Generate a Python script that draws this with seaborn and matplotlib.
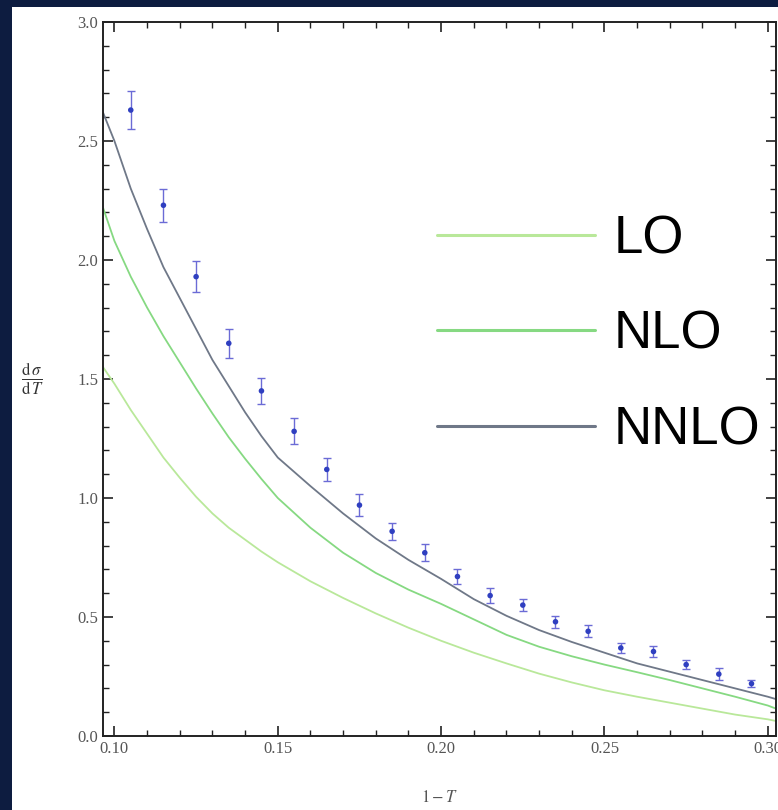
import matplotlib
matplotlib.use("Agg")
from matplotlib import pyplot as plt
from matplotlib.lines import Line2D
from matplotlib.patches import Rectangle
from matplotlib.ticker import MultipleLocator, FormatStrFormatter
import pandas as pd
import seaborn as sns

# theory curves, sampled along 1-T
curve_x = [0.0965, 0.10, 0.105, 0.11, 0.115, 0.12, 0.125, 0.13, 0.135, 0.14, 0.145,
           0.15, 0.16, 0.17, 0.18, 0.19, 0.20, 0.21, 0.22, 0.23, 0.24, 0.25, 0.26,
           0.27, 0.28, 0.29, 0.30, 0.3025]
lo = [1.55, 1.48, 1.37, 1.27, 1.17, 1.085, 1.005, 0.935, 0.875, 0.825, 0.775,
      0.73, 0.65, 0.58, 0.515, 0.455, 0.40, 0.35, 0.305, 0.262, 0.225, 0.192, 0.165,
      0.14, 0.115, 0.09, 0.07, 0.063]
nlo = [2.22, 2.08, 1.93, 1.80, 1.68, 1.57, 1.46, 1.355, 1.255, 1.165, 1.08,
       1.00, 0.875, 0.77, 0.685, 0.615, 0.555, 0.49, 0.425, 0.375, 0.335, 0.30, 0.268,
       0.235, 0.20, 0.165, 0.128, 0.115]
nnlo = [2.62, 2.50, 2.30, 2.13, 1.97, 1.84, 1.71, 1.58, 1.47, 1.36, 1.26,
        1.17, 1.05, 0.935, 0.83, 0.74, 0.66, 0.575, 0.505, 0.445, 0.395, 0.35, 0.305,
        0.27, 0.235, 0.20, 0.165, 0.155]

# measured points
data_x = [0.105, 0.115, 0.125, 0.135, 0.145, 0.155, 0.165, 0.175, 0.185, 0.195,
          0.205, 0.215, 0.225, 0.235, 0.245, 0.255, 0.265, 0.275, 0.285, 0.295]
data_y = [2.63, 2.23, 1.93, 1.65, 1.45, 1.28, 1.12, 0.97, 0.86, 0.77,
          0.67, 0.59, 0.55, 0.48, 0.44, 0.37, 0.355, 0.30, 0.26, 0.22]
data_err = [0.08, 0.07, 0.065, 0.06, 0.055, 0.055, 0.05, 0.045, 0.035, 0.035,
            0.03, 0.03, 0.025, 0.025, 0.025, 0.02, 0.025, 0.02, 0.025, 0.015]

labels = ['LO', 'NLO', 'NNLO']
colors = {'LO': '#b9e89a', 'NLO': '#86d982', 'NNLO': '#6f7888'}

df = pd.DataFrame({
    'x': curve_x * 3,
    'y': lo + nlo + nnlo,
    'order': ['LO'] * len(curve_x) + ['NLO'] * len(curve_x) + ['NNLO'] * len(curve_x),
})
pts = pd.DataFrame({'x': data_x, 'y': data_y, 'err': data_err})

sns.set_style('ticks')
plt.rcParams['font.family'] = ['Liberation Serif', 'DejaVu Serif']
plt.rcParams['mathtext.fontset'] = 'stix'

fig = plt.figure(figsize=(7.78, 8.10), dpi=100)
fig.patch.set_facecolor('#0d1c40')
# white slide panel behind the plot
fig.patches.append(Rectangle((12 / 778, 0), 1, 1 - 7 / 810, transform=fig.transFigure,
                             facecolor='white', edgecolor='none', zorder=-5))

ax = fig.add_axes([103 / 778, 1 - 736 / 810, (776 - 103) / 778, (736 - 22) / 810])
ax.set_zorder(2)
ax.set_facecolor('white')

sns.lineplot(data=df, x='x', y='y', hue='order', palette=colors, linewidth=1.3,
             legend=False, ax=ax, sort=False)
ax.errorbar(pts['x'], pts['y'], yerr=pts['err'], fmt='none', ecolor='#6b6bd6',
            elinewidth=1.0, capsize=3, capthick=1.0, zorder=3)
sns.scatterplot(data=pts, x='x', y='y', color='#2f3fc0', s=16, edgecolor='none',
                ax=ax, zorder=4)

ax.set_xlim(0.0965, 0.3025)
ax.set_ylim(0, 3.0)
ax.xaxis.set_major_locator(MultipleLocator(0.05))
ax.xaxis.set_minor_locator(MultipleLocator(0.01))
ax.yaxis.set_major_locator(MultipleLocator(0.5))
ax.yaxis.set_minor_locator(MultipleLocator(0.1))
ax.xaxis.set_major_formatter(FormatStrFormatter('%.2f'))
ax.yaxis.set_major_formatter(FormatStrFormatter('%.1f'))
ax.tick_params(which='both', direction='in', top=True, right=True, color='#222222',
               labelsize=12, labelcolor='#555555')
ax.tick_params(which='major', length=7, width=1.2)
ax.tick_params(which='minor', length=4, width=1.0)
for s in ax.spines.values():
    s.set_color('#222222')
    s.set_linewidth(1.4)

ax.set_xlabel(r'$1-T$', fontsize=12, color='#555555', labelpad=24)
ax.set_ylabel(r'$\frac{\mathrm{d}\,\sigma}{\mathrm{d}\,T}$', fontsize=17, rotation=0,
              color='#333333', labelpad=32, va='center')

handles = [Line2D([], [], color=colors[k], linewidth=2.2) for k in labels]
leg = ax.legend(handles, labels, loc='upper left', bbox_to_anchor=(0.465, 0.76),
                frameon=False, prop={'family': 'Liberation Sans', 'size': 38},
                handlelength=3.0, handletextpad=0.35, labelspacing=0.86, borderaxespad=0)
for t in leg.get_texts():
    t.set_color('black')

fig.savefig('out.png', dpi=100, facecolor=fig.get_facecolor())
